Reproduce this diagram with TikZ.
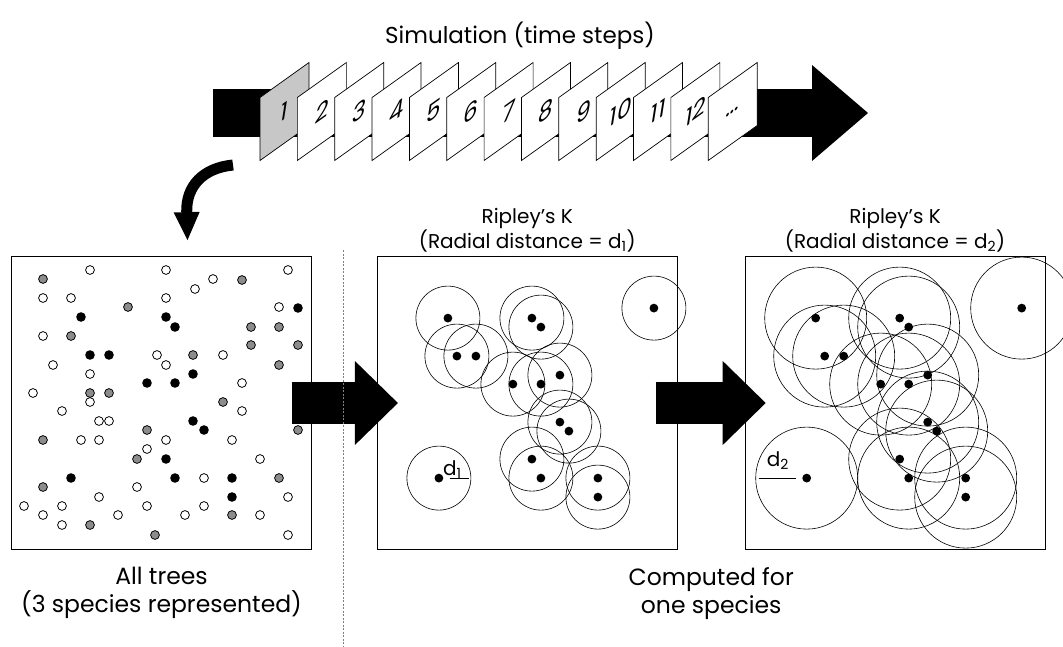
\documentclass[tikz,border=0pt]{standalone}
\usepackage{fontspec}
\setmainfont{Poppins}
\usetikzlibrary{arrows.meta, positioning, calc}

\definecolor{cardgray}{gray}{0.78}
\definecolor{treegray}{gray}{0.55}

% trees of the whole stand (pixels, y downwards)
\newcommand{\opentrees}{90/270, 166/270, 288/270, 213/279, 195/289, 43/298, 71/298, 166/298, 279/307, 43/336, 157/355, 223/355, 53/365, 166/365, 90/374, 242/383, 33/393, 90/402, 62/411, 242/411, 99/421, 109/421, 81/440, 99/440, 166/440, 232/440, 147/449, 260/459, 137/487, 204/478, 99/497, 288/497, 24/506, 62/506, 147/506, 204/506, 43/515, 118/515, 185/515, 260/515, 62/525, 288/535}
\newcommand{\graytrees}{43/279, 242/280, 128/307, 71/336, 251/327, 279/327, 251/345, 298/345, 193/355, 279/365, 90/393, 109/393, 223/402, 147/430, 298/430, 43/440, 137/459, 43/487, 279/478, 90/525, 232/515, 155/535}
\newcommand{\blacktrees}{81/317, 166/317, 175/327, 298/308, 90/355, 109/355, 193/374, 147/383, 175/383, 193/421, 204/430, 166/459, 71/478, 175/478, 232/478, 232/497}
% one species, relative to the panel corner
\newcommand{\focaltrees}{71/62, 80/100, 99/100, 155/62, 164/71, 277/52, 136/128, 164/128, 183/119, 183/166, 192/175, 155/203, 164/222, 221/222, 221/241, 62/222}

\begin{document}
\begin{tikzpicture}[
      x=1pt, y=-1pt,
      node distance=65pt,
      panel/.style={rectangle, draw, line width=0.8pt, minimum width=300pt, minimum height=293pt, inner sep=0pt},
      card/.style={rectangle, draw, line width=0.7pt, fill=white, minimum width=49pt, minimum height=63pt, inner sep=0pt, yslant=0.714, font=\itshape\fontsize{23}{23}\selectfont},
      timearrow/.style={line width=48pt, -{Triangle[length=56pt, width=96pt, line width=0pt]}},
      bigarrow/.style={line width=42pt, -{Triangle[length=43pt, width=84pt, line width=0pt]}},
      pickarrow/.style={line width=11pt, -{Triangle[length=28pt, width=26pt, line width=0pt]}},
      ring/.style={draw, line width=0.6pt},
      tree/.style={draw, line width=0.8pt},
      lbl/.style={align=center, font=\fontsize{20}{23}\selectfont, inner sep=0pt},
      biglbl/.style={align=center, font=\fontsize{23.5}{28}\selectfont, inner sep=0pt},
      dlbl/.style={inner sep=0pt, font=\fontsize{20}{20}\selectfont},
      sep/.style={draw=gray, line width=0.5pt, dash pattern=on 2pt off 1.5pt}
    ]
    \useasboundingbox (0,0) rectangle (1063,646);

    % time steps
    \node[biglbl, font=\fontsize{23}{23}\selectfont] (simlbl) at (520,36) {Simulation (time steps)};
    \coordinate (tl0) at (213,113);
    \coordinate (tl1) at (868,113);
    \draw[timearrow] (tl0) -- (tl1);
    \node[card, fill=cardgray] (c1) at (284.5,111.5) {1};
    \foreach \lbl [count=\k from 2] in {2,3,4,5,6,7,8,9,10,11,12,\dots}
      \node[card] (c\k) at ({284.5+37.35*(\k-1)},111.5) {\lbl};

    % panels
    \node[panel] (trees) at (161.5,403) {};
    \node[panel, right=of trees] (ripA) {};
    \node[panel, right=67pt of ripA] (ripB) {};

    \coordinate (pick) at (233,165);
    \draw[pickarrow] (pick) .. controls (203,168) and (186,186) .. ($(trees.north)+(26,-16)$);

    % all trees
    \foreach \px/\py in \opentrees
      \filldraw[tree, fill=white] (\px,\py) circle[radius=4.4pt];
    \foreach \px/\py in \graytrees
      \filldraw[tree, fill=treegray] (\px,\py) circle[radius=4.4pt];
    \foreach \px/\py in \blacktrees
      \fill (\px,\py) circle[radius=4.8pt];

    % Ripley's K, two distances
    \begin{scope}[shift={(ripA.north west)}]
      \foreach \px/\py in \focaltrees {
        \fill (\px,\py) circle[radius=4.4pt];
        \draw[ring] (\px,\py) circle[radius=32pt];
      }
      \draw[line width=0.8pt] (73,222) -- (92,222);
      \node[dlbl, anchor=south west] (d1) at (66,223) {d\textsubscript{1}};
    \end{scope}
    \begin{scope}[shift={(ripB.north west)}]
      \foreach \px/\py in \focaltrees {
        \fill (\px,\py) circle[radius=4.4pt];
        \draw[ring] (\px,\py) circle[radius=51pt];
      }
      \draw[line width=0.8pt] (14,222) -- (51,222);
      \node[dlbl, anchor=south west] (d2) at (22,214) {d\textsubscript{2}};
    \end{scope}

    \draw[bigarrow] ([xshift=-20pt]trees.east) -- ([xshift=21pt]ripA.west);
    \draw[bigarrow] ([xshift=-22pt]ripA.east) -- ([xshift=21pt]ripB.west);

    % labels
    \node[lbl, above=4pt of ripA] (kA) {Ripley's K\\(Radial distance = d\textsubscript{1})};
    \node[lbl, above=4pt of ripB] (kB) {Ripley's K\\(Radial distance = d\textsubscript{2})};
    \node[biglbl, below=17pt of trees] (treeslbl) {All trees\\(3 species represented)};
    \coordinate (mid) at ($(ripA.south)!0.5!(ripB.south)$);
    \node[biglbl, below=17pt of mid] (onelbl) {Computed for\\one species};

    \draw[sep] (343,250) -- (343,646);
  \end{tikzpicture}
\end{document}
